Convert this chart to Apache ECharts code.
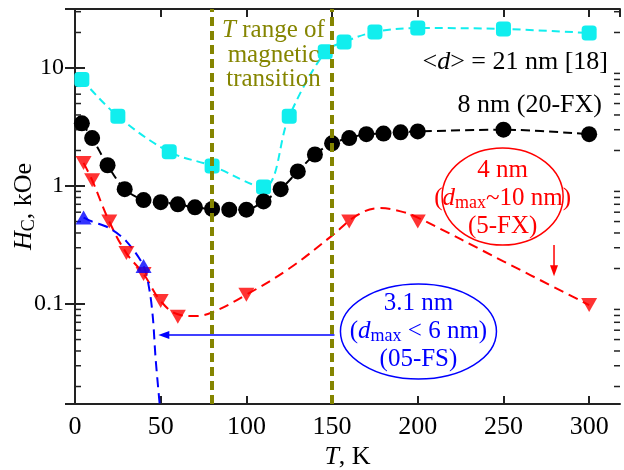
<!DOCTYPE html>
<html>
<head>
<meta charset="utf-8">
<script src="https://cdn.jsdelivr.net/npm/echarts@6/dist/echarts.min.js"></script>
<style>html,body{margin:0;padding:0;background:#fff}#c{width:624px;height:470px}</style>
</head>
<body>
<div id="c"></div>
<script>
// ---- data ----
const xTicks = [0, 50, 100, 150, 200, 250, 300];
const yTickValues = [0.1, 1, 10];
const yTickLabels = ['0.1', '1', '10'];
const yMinorTicks = [0.02,0.03,0.04,0.05,0.06,0.07,0.08,0.09,0.2,0.3,0.4,0.5,0.6,0.7,0.8,0.9,2,3,4,5,6,7,8,9,20,30];

// <d> = 21 nm [18]
const cyanT = [4, 25, 55, 80, 110, 125, 146, 157, 175, 200, 250, 300];
const cyanH = [8, 3.9, 1.95, 1.48, 0.98, 3.9, 13.7, 16.6, 20.2, 21.8, 21.4, 19.8];

// 8 nm (20-FX)
const blackT = [4, 10, 19, 29, 40, 50, 60, 70, 80, 90, 100, 110, 120, 130, 140, 150, 160, 170, 180, 190, 200, 250, 300];
const blackH = [3.4, 2.55, 1.5, 0.94, 0.76, 0.73, 0.70, 0.66, 0.64, 0.63, 0.63, 0.74, 0.94, 1.33, 1.85, 2.3, 2.55, 2.75, 2.78, 2.85, 2.9, 3.0, 2.75];

// 4 nm (5-FX) measured points
const redT = [5, 10, 20, 30, 40, 50, 60, 100, 160, 200, 300];
const redH = [1.57, 1.12, 0.5, 0.27, 0.18, 0.106, 0.078, 0.12, 0.5, 0.5, 0.098];
// 4 nm guide curve
const redFitT = [5, 10, 20, 30, 40, 50, 60, 70, 80, 100, 125, 150, 165, 178, 190, 200, 250, 300];
const redFitH = [1.57, 1.12, 0.5, 0.27, 0.18, 0.106, 0.082, 0.079, 0.085, 0.12, 0.2, 0.38, 0.57, 0.65, 0.61, 0.54, 0.23, 0.098];

// 3.1 nm (05-FS) measured points
const blueT = [5, 40];
const blueH = [0.54, 0.21];
// 3.1 nm guide curve
const blueFitT = [5, 10, 20, 30, 40, 43.5, 45.5, 47, 49.4];
const blueFitH = [0.54, 0.5, 0.44, 0.34, 0.21, 0.13, 0.075, 0.035, 0.0142];

// transition range
const transitionT = [80, 150];

const X_MIN = 0, X_MAX = 318;
const Y_MIN = 0.01422, Y_MAX = 31.62;

const FONT = '"Liberation Serif","Times New Roman",serif';
const OLIVE = '#858500';
const CYAN = '#11eeee';
const AX = '#222';

const zip = (a, b) => a.map((v, i) => [v, b[i]]);

function yFmt(v) {
  for (let i = 0; i < yTickValues.length; i++) {
    if (Math.abs(Math.log10(v) - Math.log10(yTickValues[i])) < 1e-6) return yTickLabels[i];
  }
  return '';
}

const chart = echarts.init(document.getElementById('c'), null, {renderer: 'canvas'});

function minorTicks(params, api) {
  const v = api.value(1);
  const l = api.coord([X_MIN, v]);
  const r = api.coord([X_MAX, v]);
  return {type: 'group', children: [
    {type: 'line', shape: {x1: l[0], y1: l[1], x2: l[0] + 6, y2: l[1]}, style: {stroke: AX, lineWidth: 1.5}},
    {type: 'line', shape: {x1: r[0], y1: r[1], x2: r[0] - 6, y2: r[1]}, style: {stroke: AX, lineWidth: 1.5}}
  ]};
}

function mkRich(size, color) {
  return {
    n: {fontFamily: FONT, fontSize: size, fill: color, lineHeight: 28, align: 'center'},
    i: {fontFamily: FONT, fontSize: size, fontStyle: 'italic', fill: color, lineHeight: 28, align: 'center'},
    s: {fontFamily: FONT, fontSize: Math.round(size * 0.72), fill: color, lineHeight: 8, verticalAlign: 'bottom', align: 'center'}
  };
}

function annotations(params, api) {
  if (params.dataIndex !== 0) return null;
  const P = (x, y) => api.coord([x, y]);
  const kids = [];
  // labels of the two upper curves
  let p = P(311, 11.2);
  kids.push({type: 'text', x: p[0], y: p[1], style: {
    text: '{n|<}{i|d}{n|> = 21 nm [18]}', rich: mkRich(26, '#000'), fill: '#000', align: 'right', verticalAlign: 'middle'}});
  p = P(307.5, 4.86);
  kids.push({type: 'text', x: p[0], y: p[1], style: {
    text: '{n|8 nm (20-FX)}', rich: mkRich(26, '#000'), fill: '#000', align: 'right', verticalAlign: 'middle'}});
  // transition range label
  p = P(115.8, 12.9);
  const ro = mkRich(25, OLIVE); ro.n.lineHeight = 24.5; ro.i.lineHeight = 24.5;
  kids.push({type: 'text', x: p[0], y: p[1], style: {
    text: '{i|T}{n| range of}\n{n|magnetic}\n{n|transition}', rich: ro, fill: OLIVE, align: 'center', verticalAlign: 'middle'}});
  // red ellipse + text
  p = P(249.5, 0.815);
  kids.push({type: 'ellipse', shape: {cx: p[0], cy: p[1], rx: 60.5, ry: 48.5}, style: {fill: 'none', stroke: '#ff0000', lineWidth: 1.5}});
  kids.push({type: 'text', x: p[0], y: p[1] + 2, style: {
    text: '{n|4 nm}\n{n|(}{i|d}{s|max}{n|~10 nm)}\n{n|(5-FX)}', rich: mkRich(25, '#ff0000'), fill: '#ff0000', align: 'center', verticalAlign: 'middle'}});
  // red arrow
  let a = P(279.5, 0.316), b = P(279.5, 0.172);
  kids.push({type: 'line', shape: {x1: a[0], y1: a[1], x2: b[0], y2: b[1] - 6}, style: {stroke: '#ff0000', lineWidth: 1.5}});
  kids.push({type: 'polygon', shape: {points: [[b[0], b[1]], [b[0] - 4, b[1] - 11], [b[0] + 4, b[1] - 11]]}, style: {fill: '#ff0000'}});
  // blue ellipse + text
  p = P(200.4, 0.0585);
  kids.push({type: 'ellipse', shape: {cx: p[0], cy: p[1], rx: 78, ry: 47.5}, style: {fill: 'none', stroke: '#0000ff', lineWidth: 1.5}});
  kids.push({type: 'text', x: p[0], y: p[1], style: {
    text: '{n|3.1 nm}\n{n|(}{i|d}{s|max}{n| < 6 nm)}\n{n|(05-FS)}', rich: mkRich(25, '#0000ff'), fill: '#0000ff', align: 'center', verticalAlign: 'middle'}});
  // blue arrow
  a = P(151.4, 0.0546); b = P(48.6, 0.0546);
  kids.push({type: 'line', shape: {x1: a[0], y1: a[1], x2: b[0] + 6, y2: b[1]}, style: {stroke: '#0000ff', lineWidth: 1.5}});
  kids.push({type: 'polygon', shape: {points: [[b[0], b[1]], [b[0] + 11, b[1] - 4], [b[0] + 11, b[1] + 4]]}, style: {fill: '#0000ff'}});
  return {type: 'group', children: kids};
}

const axisLineStyle = {lineStyle: {color: AX, width: 2}};

const option = {
  backgroundColor: '#fff',
  animation: false,
  grid: {left: 75, right: 4, top: 9, bottom: 66, containLabel: false, outerBoundsMode: 'none'},
  xAxis: [
    {type: 'value', min: X_MIN, max: X_MAX, interval: 50, position: 'bottom',
     axisLine: axisLineStyle,
     axisTick: {inside: true, length: 8, lineStyle: {color: AX, width: 2}},
     axisLabel: {fontFamily: FONT, fontSize: 26, color: '#000', margin: 10, showMaxLabel: false,
                 formatter: v => (xTicks.indexOf(v) >= 0 ? String(v) : '')},
     splitLine: {show: false},
     name: '{i|T}{n|, K}', nameLocation: 'middle', nameGap: 40, nameMoveOverlap: false,
     nameTextStyle: {rich: {i: {fontFamily: FONT, fontSize: 26, fontStyle: 'italic', color: '#000'},
                            n: {fontFamily: FONT, fontSize: 26, color: '#000'}}}},
    {type: 'value', min: X_MIN, max: X_MAX, interval: 50, position: 'top',
     axisLine: axisLineStyle,
     axisTick: {inside: true, length: 8, lineStyle: {color: AX, width: 2}},
     axisLabel: {show: false}, splitLine: {show: false}}
  ],
  yAxis: [
    {type: 'log', logBase: 10, min: Y_MIN, max: Y_MAX, position: 'left',
     axisLine: axisLineStyle,
     axisTick: {inside: true, length: 10, lineStyle: {color: AX, width: 2}},
     axisLabel: {fontFamily: FONT, fontSize: 24, color: '#000', margin: 11, showMinLabel: false, showMaxLabel: false, formatter: yFmt},
     splitLine: {show: false},
     name: '{i|H}{s|C}{n|, kOe}', nameLocation: 'middle', nameGap: 37, nameRotate: 90, nameMoveOverlap: false,
     nameTextStyle: {rich: {
       i: {fontFamily: FONT, fontSize: 26, fontStyle: 'italic', color: '#000', lineHeight: 28},
       s: {fontFamily: FONT, fontSize: 18, color: '#000', lineHeight: 8, verticalAlign: 'bottom'},
       n: {fontFamily: FONT, fontSize: 26, color: '#000', lineHeight: 28}}}},
    {type: 'log', logBase: 10, min: Y_MIN, max: Y_MAX, position: 'right',
     axisLine: axisLineStyle,
     axisTick: {inside: true, length: 10, lineStyle: {color: AX, width: 2}},
     axisLabel: {show: false}, splitLine: {show: false}}
  ],
  series: [
    {type: 'custom', coordinateSystem: 'cartesian2d', silent: true, z: 1,
     data: yMinorTicks.map(v => [X_MIN, v]), renderItem: minorTicks},
    {name: 'cyan', type: 'line', data: zip(cyanT, cyanH), smooth: 0.35, symbol: 'roundRect', symbolSize: 15,
     itemStyle: {color: CYAN}, lineStyle: {color: CYAN, width: 2, type: [8, 5]}, z: 4,
     markLine: {silent: true, symbol: ['none', 'none'], label: {show: false},
                lineStyle: {color: OLIVE, width: 4, type: [9, 5]},
                data: transitionT.map(t => ({xAxis: t}))}},
    {name: 'black', type: 'line', data: zip(blackT, blackH), smooth: 0.3, symbol: 'circle', symbolSize: 16,
     itemStyle: {color: '#000'}, lineStyle: {color: '#000', width: 2, type: [9, 5]}, z: 4},
    {name: 'redFit', type: 'line', data: zip(redFitT, redFitH), smooth: 0.4, symbol: 'none',
     lineStyle: {color: '#ff0000', width: 2, type: [10, 6]}, z: 3},
    {name: 'red', type: 'scatter', data: zip(redT, redH), symbol: 'triangle', symbolRotate: 180, symbolSize: [16, 14],
     itemStyle: {color: '#ff0000'}, z: 5},
    {name: 'blueFit', type: 'line', data: zip(blueFitT, blueFitH), smooth: 0.3, symbol: 'none',
     lineStyle: {color: '#0000ff', width: 2, type: [10, 6]}, z: 3},
    {name: 'blue', type: 'scatter', data: zip(blueT, blueH), symbol: 'triangle', symbolSize: [16, 14],
     itemStyle: {color: '#0000ff'}, z: 5},
    {type: 'custom', coordinateSystem: 'cartesian2d', silent: true, z: 6,
     data: [[X_MIN, 1]], renderItem: annotations}
  ]
};
chart.setOption(option);
</script>
</body>
</html>
